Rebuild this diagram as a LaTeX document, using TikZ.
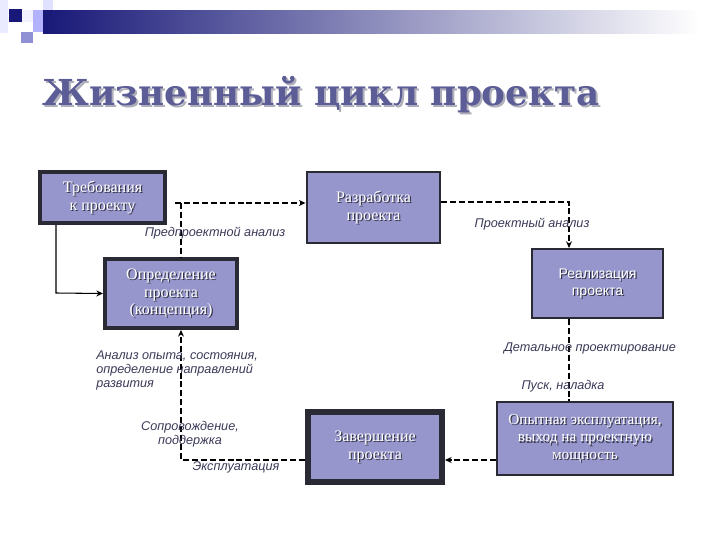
\documentclass[tikz,border=0pt]{standalone}
\usepackage{fontspec}
\setmainfont{Liberation Serif}
\newfontfamily\titlefont{DejaVu Serif}
\newfontfamily\lblfont{Liberation Sans}
\usetikzlibrary{arrows.meta}
\definecolor{boxfill}{RGB}{150,150,204}
\definecolor{boxborder}{RGB}{42,42,52}
\definecolor{titlecol}{RGB}{92,92,150}
\definecolor{titleshadow}{RGB}{175,175,185}
\definecolor{lblcol}{RGB}{58,58,88}
\definecolor{txtshadow}{RGB}{50,50,70}
\definecolor{barleft}{RGB}{24,24,120}
\newcommand\boxtxt[3]{%
  \node[boxtext,text=txtshadow,font=#3] at ([shift={(0.9pt,-0.9pt)}]#1) {#2};
  \node[boxtext,font=#3] at (#1) {#2};}
\newcommand\titletext{\resizebox{418pt}{!}{\titlefont\bfseries Жизненный цикл проекта}}
\begin{document}
\begin{tikzpicture}[x=0.75pt,y=-0.75pt,
  box/.style={draw=boxborder,fill=boxfill,inner sep=0pt},
  boxtext/.style={text=white,align=center,inner sep=0pt},
  lbl/.style={text=lblcol,font=\lblfont\itshape\fontsize{9.5}{10.5}\selectfont,inner sep=0pt},
  conn/.style={line width=0.8pt,draw=black},
  dashconn/.style={conn,dash pattern=on 4.5pt off 2.2pt},
  tip/.style={-{Stealth[length=5pt,width=4.5pt]}}]
\useasboundingbox (0,0) rectangle (720,540);
% header decoration
\fill[white] (0,0) rectangle (720,540);
\fill[blue!8!white] (0,0) rectangle (8,33);
\fill[blue!12!white] (43,0) rectangle (53,10);
\fill[blue!5!white] (22,10) rectangle (33,22);
\fill[blue!30!white] (33,10) rectangle (43,32);
\fill[blue!45!gray!60!white] (21,32) rectangle (33,43);
\fill[barleft] (9,9) rectangle (22,22);
\shade[left color=barleft, right color=white] (43,10) rectangle (700,33);
% title
\node[text=titleshadow,anchor=west,inner sep=0pt] (titleS) at (44,97) {\titletext};
\node[text=titlecol,anchor=west,inner sep=0pt] (title) at (42,95) {\titletext};
% boxes
\node[box,line width=3pt,minimum width=125*0.75pt,minimum height=51*0.75pt] (treb) at (102.5,197.5) {};
\node[box,line width=2.2pt,minimum width=133*0.75pt,minimum height=71*0.75pt] (razr) at (373.5,207.5) {};
\node[box,line width=3pt,minimum width=132*0.75pt,minimum height=69*0.75pt] (opred) at (171,293.5) {};
\node[box,line width=1.6pt,minimum width=131*0.75pt,minimum height=69*0.75pt] (real) at (597.5,283.5) {};
\node[box,line width=4.5pt,minimum width=134*0.75pt,minimum height=70*0.75pt] (zav) at (375,447) {};
\node[box,line width=1.2pt,minimum width=176*0.75pt,minimum height=73*0.75pt] (opyt) at (585,438.5) {};
% box texts
\boxtxt{treb}{Требования\\к проекту}{\fontsize{12}{13.5}\selectfont}
\boxtxt{razr}{Разработка\\проекта}{\fontsize{12}{13.5}\selectfont}
\boxtxt{opred}{Определение\\проекта\\(концепция)}{\fontsize{12}{13}\selectfont}
\boxtxt{real}{Реализация\\проекта}{\lblfont\fontsize{10.5}{13}\selectfont}
\boxtxt{zav}{Завершение\\проекта}{\fontsize{12}{13.5}\selectfont}
\boxtxt{opyt}{Опытная эксплуатация,\\выход на проектную\\мощность}{\fontsize{11.5}{13}\selectfont}
% connector coordinates
\coordinate (c1) at (56,293);
\coordinate (c2) at (175,203);
\coordinate (c3) at (181,203);
\coordinate (c4) at (569,202);
\coordinate (c5) at (181,460);
% connectors
\draw[conn,tip] (treb.south -| c1) -- (c1) -- (opred.west);
\draw[dashconn,tip] (c2) -- (c2 -| razr.west);
\draw[dashconn] (c3) -- (c3 |- opred.north);
\draw[dashconn,tip] (razr.east |- c4) -- (c4) -- (c4 |- real.north);
\draw[dashconn] (c4 |- real.south) -- (c4 |- opyt.north);
\draw[dashconn,tip] (c5 -| opyt.west) -- (c5 -| zav.east);
\draw[dashconn,tip] (c5 -| zav.west) -- (c5) -- (c5 |- opred.south);
% labels
\node[lbl] (l1) at (215,233) {Предпроектной анализ};
\node[lbl] (l2) at (532,224) {Проектный анализ};
\node[lbl] (l3) at (590,348) {Детальное проектирование};
\node[lbl] (l4) at (563,386) {Пуск, наладка};
\node[lbl,anchor=north west,align=left] (l5) at (96,351) {Анализ опыта, состояния,\\определение направлений\\развития};
\node[lbl,align=center] (l6) at (190,434) {Сопровождение,\\поддержка};
\node[lbl] (l7) at (236,467) {Эксплуатация};
\end{tikzpicture}
\end{document}
